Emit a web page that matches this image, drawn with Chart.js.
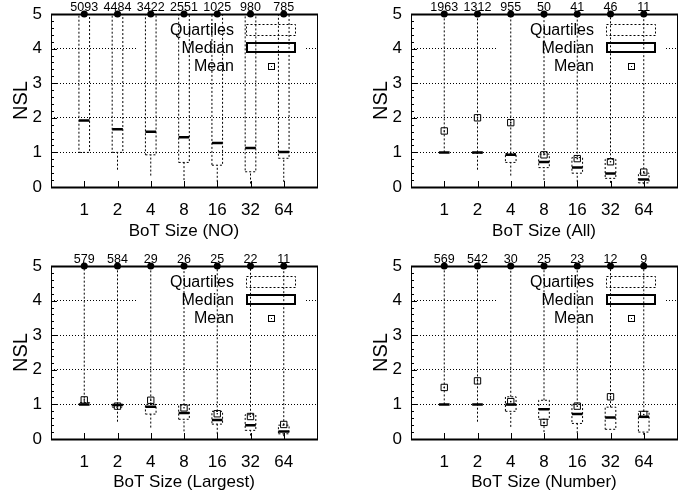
<!DOCTYPE html>
<html>
<head>
<meta charset="utf-8">
<script src="https://cdn.jsdelivr.net/npm/chart.js@4.4.0/dist/chart.umd.min.js"></script>
<style>
body { margin: 0; background: #fff; }
#wrap { position: relative; width: 688px; height: 502px; }
canvas { position: absolute; }
</style>
</head>
<body>
<div id="wrap">
  <canvas id="c1" width="344" height="251" style="left:0;top:0"></canvas>
  <canvas id="c2" width="344" height="251" style="left:344px;top:0"></canvas>
  <canvas id="c3" width="344" height="251" style="left:0;top:251px"></canvas>
  <canvas id="c4" width="344" height="251" style="left:344px;top:251px"></canvas>
</div>
<script>
// categories (BoT size)
var sizes = ["1", "2", "4", "8", "16", "32", "64"];
var yTicks = [0, 1, 2, 3, 4, 5];

// NO
var noCounts = [5093, 4484, 3422, 2551, 1025, 980, 785];
var noLow    = [1.0, 0.5, 0.33, 0.2, 0.15, 0.1, 0.15];
var noQ1     = [1.0, 1.0, 0.93, 0.71, 0.63, 0.44, 0.83];
var noMedian = [1.92, 1.67, 1.6, 1.44, 1.27, 1.13, 1.01];
var noQ3     = [5.5, 5.5, 5.5, 5.5, 5.5, 5.5, 5.5];
var noHigh   = [7, 7, 7, 7, 7, 7, 7];
var noMean   = [null, null, null, null, null, null, null];

// All
var allCounts = [1963, 1312, 955, 50, 41, 46, 11];
var allLow    = [1.0, 0.5, 0.33, 0.2, 0.15, 0.12, 0.08];
var allQ1     = [1.0, 0.98, 0.71, 0.56, 0.4, 0.25, 0.12];
var allMedian = [1.0, 1.0, 0.93, 0.72, 0.56, 0.39, 0.22];
var allQ3     = [1.0, 1.0, 0.97, 0.95, 0.85, 0.8, 0.4];
var allHigh   = [6, 6, 6, 6, 6, 6, 6];
var allMean   = [1.62, 2.0, 1.86, 0.93, 0.82, 0.73, 0.43];

// Largest
var lgCounts = [579, 584, 29, 26, 25, 22, 11];
var lgLow    = [1.0, 0.5, 0.33, 0.22, 0.15, 0.1, 0.08];
var lgQ1     = [1.0, 0.92, 0.72, 0.57, 0.43, 0.25, 0.15];
var lgMedian = [1.0, 0.98, 0.93, 0.75, 0.55, 0.4, 0.22];
var lgQ3     = [1.05, 1.0, 1.0, 0.98, 0.8, 0.7, 0.4];
var lgHigh   = [6, 6, 6, 6, 6, 6, 6];
var lgMean   = [1.13, 0.95, 1.12, 0.9, 0.73, 0.65, 0.42];

// Number
var nbCounts = [569, 542, 30, 25, 23, 12, 9];
var nbLow    = [1.0, 0.5, 0.35, 0.2, 0.17, 0.28, 0.12];
var nbQ1     = [1.0, 1.0, 0.8, 0.57, 0.45, 0.28, 0.2];
var nbMedian = [1.0, 1.0, 1.0, 0.86, 0.72, 0.62, 0.64];
var nbQ3     = [1.0, 1.0, 1.22, 1.12, 1.0, 0.92, 0.8];
var nbHigh   = [6, 6, 6, 6, 6, 6, 6];
var nbMean   = [1.49, 1.68, 1.08, 0.48, 0.95, 1.22, 0.71];

var boxHalf = 0.16;
var font = "'Liberation Sans', Arial, Helvetica, sans-serif";

function whiskerPoints(lo, q1, q3, hi) {
  var pts = [];
  for (var i = 0; i < lo.length; i++) {
    var x = i + 1;
    if (lo[i] < q1[i]) pts.push({x: x, y: lo[i]}, {x: x, y: q1[i]}, {x: x, y: null});
    if (hi[i] > q3[i]) pts.push({x: x, y: q3[i]}, {x: x, y: hi[i]}, {x: x, y: null});
  }
  return pts;
}

function boxPoints(q1, q3) {
  var pts = [];
  for (var i = 0; i < q1.length; i++) {
    if (q3[i] <= q1[i]) continue;
    var a = i + 1 - boxHalf, b = i + 1 + boxHalf;
    pts.push({x: a, y: q1[i]}, {x: b, y: q1[i]}, {x: b, y: q3[i]},
             {x: a, y: q3[i]}, {x: a, y: q1[i]}, {x: a, y: null});
  }
  return pts;
}

function medianPoints(med) {
  var pts = [];
  for (var i = 0; i < med.length; i++) {
    pts.push({x: i + 1 - boxHalf, y: med[i]}, {x: i + 1 + boxHalf, y: med[i]}, {x: i + 1, y: null});
  }
  return pts;
}

function meanPoints(mean) {
  var pts = [];
  for (var i = 0; i < mean.length; i++) {
    if (mean[i] != null) pts.push({x: i + 1, y: mean[i]});
  }
  return pts;
}

function countPoints(counts) {
  return counts.map(function(c, i) { return {x: i + 1, y: 5}; });
}

// legend, frame, inner ticks and the count labels on top
function extrasPlugin(counts) {
  return {
    id: "extras",
    beforeDatasetsDraw: function(chart) {
      var ctx = chart.ctx, a = chart.chartArea;
      ctx.save();
      ctx.fillStyle = "#fff";
      ctx.fillRect(a.left + 87, a.top + 5, a.right - a.left - 87 - 13, 58);
      var sr = a.right - 22, sl = sr - 49;
      ctx.fillStyle = "#000";
      ctx.font = "16px " + font;
      ctx.textAlign = "right";
      ctx.textBaseline = "middle";
      ctx.fillText("Quartiles", sl - 12, a.top + 17);
      ctx.fillText("Median", sl - 12, a.top + 34.5);
      ctx.fillText("Mean", sl - 12, a.top + 52.5);
      ctx.strokeStyle = "#000";
      ctx.lineWidth = 1;
      ctx.setLineDash([2, 2]);
      ctx.strokeRect(sl + 0.5, a.top + 10.5, sr - sl, 11);
      ctx.setLineDash([]);
      ctx.lineWidth = 2;
      ctx.strokeRect(sl + 1, a.top + 29, sr - sl - 1, 9);
      ctx.lineWidth = 1;
      var mx = Math.round((sl + sr) / 2), my = Math.round(a.top + 52);
      ctx.strokeRect(mx - 2.5, my - 2.5, 6, 6);
      ctx.fillRect(mx, my, 1, 1);
      ctx.restore();
    },
    afterDatasetsDraw: function(chart) {
      var ctx = chart.ctx, a = chart.chartArea, ys = chart.scales.y, xs = chart.scales.x;
      ctx.save();
      ctx.strokeStyle = "#000";
      ctx.lineWidth = 1;
      // minor ticks on the left axis
      ctx.beginPath();
      for (var k = 1; k < 25; k++) {
        var py = Math.round(ys.getPixelForValue(k * 0.2)) + 0.5;
        var len = (k % 5 === 0) ? 6 : 3;
        ctx.moveTo(a.left, py);
        ctx.lineTo(a.left + len, py);
      }
      // category ticks on the bottom axis
      for (var i = 0; i < sizes.length; i++) {
        var px = Math.round(xs.getPixelForValue(i + 1)) + 0.5;
        ctx.moveTo(px, a.bottom);
        ctx.lineTo(px, a.bottom - 6);
      }
      ctx.stroke();
      ctx.strokeRect(Math.round(a.left) + 0.5, Math.round(a.top) + 0.5,
                     Math.round(a.right - a.left), Math.round(a.bottom - a.top));
      ctx.lineWidth = 2;
      ctx.beginPath();
      ctx.moveTo(a.left, Math.round(a.top) + 0.5);
      ctx.lineTo(a.right + 1, Math.round(a.top) + 0.5);
      ctx.moveTo(a.left, Math.round(a.bottom) + 0.5);
      ctx.lineTo(a.right + 1, Math.round(a.bottom) + 0.5);
      ctx.stroke();
      // count labels
      var meta = chart.getDatasetMeta(chart.data.datasets.length - 1);
      ctx.fillStyle = "#000";
      ctx.font = "12.5px " + font;
      ctx.textAlign = "center";
      ctx.textBaseline = "alphabetic";
      meta.data.forEach(function(pt, j) {
        ctx.fillText(String(counts[j]), pt.x, a.top - 3);
      });
      ctx.restore();
    }
  };
}

function makePanel(id, xTitle, counts, lo, q1, med, q3, hi, mean, padLeft, padRight, padTop) {
  var ctx = document.getElementById(id).getContext("2d");
  var axisH = 251 - padTop - 173;
  new Chart(ctx, {
    type: "line",
    data: {
      datasets: [{
        label: "whiskers",
        data: whiskerPoints(lo, q1, q3, hi),
        borderColor: "#000", borderWidth: 1, borderDash: [2, 2],
        pointRadius: 0, spanGaps: false, clip: 0
      }, {
        label: "Quartiles",
        data: boxPoints(q1, q3),
        borderColor: "#000", borderWidth: 1, borderDash: [2, 2],
        pointRadius: 0, spanGaps: false, clip: 0
      }, {
        label: "Median",
        data: medianPoints(med),
        borderColor: "#000", borderWidth: 2.5, borderCapStyle: "butt",
        pointRadius: 0, spanGaps: false, clip: 0
      }, {
        label: "Mean",
        data: meanPoints(mean),
        showLine: false, pointStyle: "rect", pointRadius: 4.5,
        pointBorderColor: "#000", pointBorderWidth: 1, pointBackgroundColor: "rgba(0,0,0,0)"
      }, {
        label: "meandot",
        data: meanPoints(mean),
        showLine: false, pointStyle: "circle", pointRadius: 0.8,
        pointBorderWidth: 0, pointBackgroundColor: "#000"
      }, {
        label: "count",
        data: countPoints(counts),
        showLine: false, pointStyle: "circle", pointRadius: 3.5,
        pointBorderWidth: 0, pointBackgroundColor: "#000", clip: false
      }]
    },
    options: {
      responsive: false,
      animation: false,
      events: [],
      layout: { padding: { left: padLeft, right: padRight, top: padTop, bottom: 0 } },
      plugins: { legend: { display: false }, tooltip: { enabled: false } },
      scales: {
        x: {
          type: "linear", min: 0, max: 8,
          afterBuildTicks: function(s) {
            s.ticks = sizes.map(function(v, i) { return {value: i + 1}; });
          },
          afterFit: function(s) { s.height = axisH; },
          grid: { display: false }, border: { display: false },
          ticks: {
            callback: function(v) { return sizes[v - 1]; },
            color: "#000", font: { family: font, size: 17 }, padding: 5,
            maxRotation: 0, autoSkip: false
          },
          title: { display: true, text: xTitle, color: "#000",
                   font: { family: font, size: 17 }, padding: { top: 0, bottom: 9 } }
        },
        y: {
          min: 0, max: 5,
          afterBuildTicks: function(s) {
            s.ticks = yTicks.map(function(v) { return {value: v}; });
          },
          afterFit: function(s) { s.width = 51; },
          // invisible tick marks give the label gap without padding the chart top
          grid: { color: "#000", lineWidth: 1, drawTicks: true, tickLength: 9, tickColor: "rgba(0,0,0,0)" },
          border: { display: false, dash: [1, 2] },
          ticks: { color: "#000", font: { family: font, size: 17 }, padding: 0 },
          title: { display: true, text: "NSL", color: "#000",
                   font: { family: font, size: 20 }, padding: { top: 9, bottom: 0 } }
        }
      }
    },
    plugins: [extrasPlugin(counts)]
  });
}

makePanel("c1", "BoT Size (NO)", noCounts, noLow, noQ1, noMedian, noQ3, noHigh, noMean, 0, 27, 14);
makePanel("c2", "BoT Size (All)", allCounts, allLow, allQ1, allMedian, allQ3, allHigh, allMean, 16, 11, 14);
makePanel("c3", "BoT Size (Largest)", lgCounts, lgLow, lgQ1, lgMedian, lgQ3, lgHigh, lgMean, 0, 27, 15);
makePanel("c4", "BoT Size (Number)", nbCounts, nbLow, nbQ1, nbMedian, nbQ3, nbHigh, nbMean, 16, 11, 15);
</script>
</body>
</html>
